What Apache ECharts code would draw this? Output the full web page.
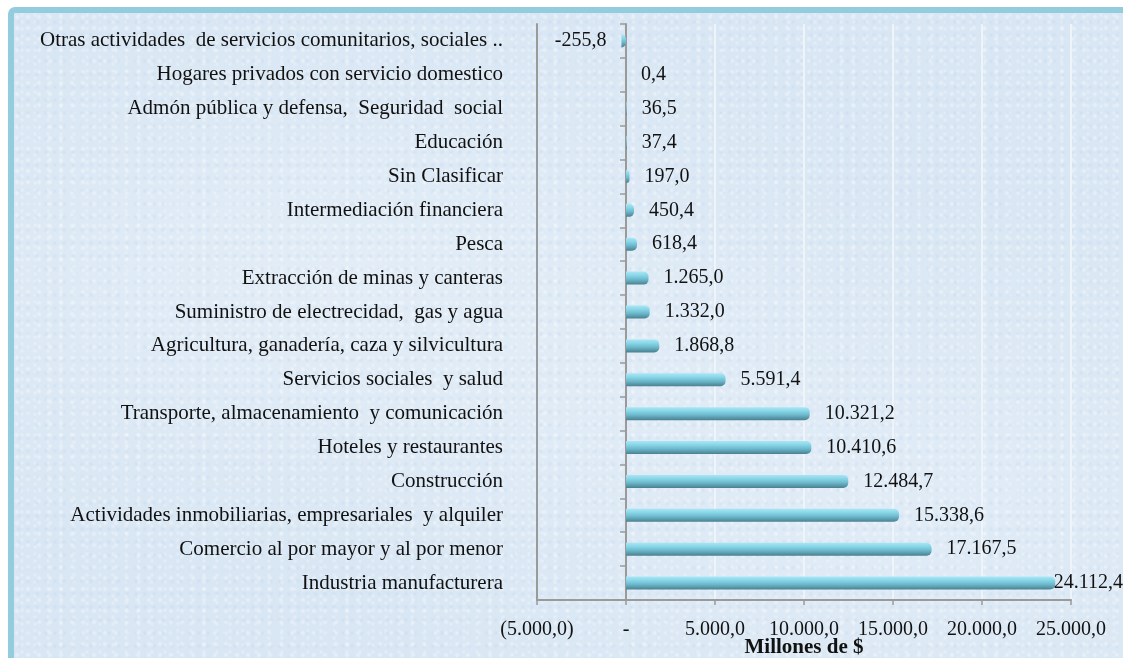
<!DOCTYPE html>
<html>
<head>
<meta charset="utf-8">
<script src="https://cdn.jsdelivr.net/npm/echarts@6/dist/echarts.min.js"></script>
<style>
  html, body { margin: 0; padding: 0; background: #ffffff; }
  #frame {
    position: absolute; left: 8px; top: 7px; width: 1140px; height: 680px;
    border: 6px solid #93cddd; border-radius: 7px;
    background-color: #d9e7f4;
    background-image:
      radial-gradient(circle at 3px 4px, rgba(255,255,255,0.45) 0, rgba(255,255,255,0) 3px),
      radial-gradient(circle at 8px 2px, rgba(255,255,255,0.35) 0, rgba(255,255,255,0) 2.5px),
      radial-gradient(circle at 5px 9px, rgba(190,210,235,0.35) 0, rgba(190,210,235,0) 3px),
      radial-gradient(ellipse at 30% 40%, rgba(255,255,255,0.25) 0, rgba(255,255,255,0) 50%),
      radial-gradient(ellipse at 75% 70%, rgba(255,255,255,0.2) 0, rgba(255,255,255,0) 45%);
    background-size: 11px 11px, 13px 7px, 9px 13px, 100% 100%, 100% 100%;
  }
  #chart { position: absolute; left: 0; top: 0; width: 1123px; height: 658px; }
</style>
</head>
<body>
<div id="frame"></div>
<div id="chart"></div>
<script>
const categories = [
  'Otras actividades  de servicios comunitarios, sociales ..',
  'Hogares privados con servicio domestico',
  'Admón pública y defensa,  Seguridad  social',
  'Educación',
  'Sin Clasificar',
  'Intermediación financiera',
  'Pesca',
  'Extracción de minas y canteras',
  'Suministro de electrecidad,  gas y agua',
  'Agricultura, ganadería, caza y silvicultura',
  'Servicios sociales  y salud',
  'Transporte, almacenamiento  y comunicación',
  'Hoteles y restaurantes',
  'Construcción',
  'Actividades inmobiliarias, empresariales  y alquiler',
  'Comercio al por mayor y al por menor',
  'Industria manufacturera'
];
const values = [-255.8, 0.4, 36.5, 37.4, 197.0, 450.4, 618.4, 1265.0, 1332.0, 1868.8,
  5591.4, 10321.2, 10410.6, 12484.7, 15338.6, 17167.5, 24112.4];
const axisMin = -5000;
const axisMax = 25000;
const axisStep = 5000;
const axisTitle = 'Millones de $';

function fmt(v) {
  const parts = Math.abs(v).toFixed(1).split('.');
  const intPart = parts[0].replace(/\B(?=(\d{3})+(?!\d))/g, '.');
  return (v < 0 ? '-' : '') + intPart + ',' + parts[1];
}
function fmtAxis(v) {
  if (v === 0) return '-';
  if (v < 0) return '(' + fmt(-v) + ')';
  return fmt(v);
}

const FONT = '"Liberation Serif", "DejaVu Serif", serif';
const GRAY = '#9a9a9a';

const chart = echarts.init(document.getElementById('chart'), null, { renderer: 'canvas' });
chart.setOption({
  backgroundColor: 'transparent',
  animation: false,
  grid: { left: 537, right: 52, top: 24, bottom: 58, containLabel: false, outerBoundsMode: 'none' },
  xAxis: {
    type: 'value',
    min: axisMin, max: axisMax, interval: axisStep,
    axisLine: { show: true, onZero: false, lineStyle: { color: GRAY, width: 2 } },
    axisTick: { show: true, length: 5, lineStyle: { color: GRAY, width: 1.5 } },
    axisLabel: { margin: 20, fontFamily: FONT, fontSize: 20, color: '#111', formatter: fmtAxis },
    splitLine: { show: true, lineStyle: { color: '#eef4f8', width: 2 } },
    name: axisTitle,
    nameLocation: 'middle',
    nameGap: 37,
    nameMoveOverlap: false,
    nameTextStyle: { fontFamily: FONT, fontSize: 21, fontWeight: 'bold', color: '#111', lineHeight: 21 }
  },
  yAxis: [
    {
      type: 'category', inverse: true, data: categories, position: 'left',
      axisLine: { show: true, onZero: true, lineStyle: { color: GRAY, width: 2 } },
      axisTick: { show: true, length: 6, lineStyle: { color: GRAY, width: 1.5 } },
      axisLabel: { show: false },
      splitLine: { show: false }
    },
    {
      type: 'category', inverse: true, data: categories, position: 'left',
      axisLine: { show: true, onZero: false, lineStyle: { color: GRAY, width: 2 } },
      axisTick: { show: false },
      axisLabel: { margin: 34, fontFamily: FONT, fontSize: 21, color: '#111' },
      splitLine: { show: false }
    }
  ],
  series: [{
    type: 'bar',
    yAxisIndex: 0,
    barWidth: 13,
    data: values.map(v => ({
      value: v,
      label: { position: v < 0 ? 'left' : 'right' }
    })),
    itemStyle: {
      borderRadius: [0, 5, 5, 0],
      color: new echarts.graphic.LinearGradient(0, 0, 0, 1, [
        { offset: 0, color: '#a9e7f4' },
        { offset: 0.3, color: '#88d5e8' },
        { offset: 0.6, color: '#6cb9cc' },
        { offset: 1, color: '#4a8090' }
      ])
    },
    label: {
      show: true,
      distance: 15,
      fontFamily: FONT,
      fontSize: 20,
      color: '#111',
      formatter: p => fmt(p.value)
    },
    labelLayout: function (p) {
      const maxX = chart.getWidth();
      const r = p.labelRect;
      if (r.x + r.width > maxX) return { dx: maxX - (r.x + r.width) };
      return {};
    }
  }]
});
</script>
</body>
</html>
